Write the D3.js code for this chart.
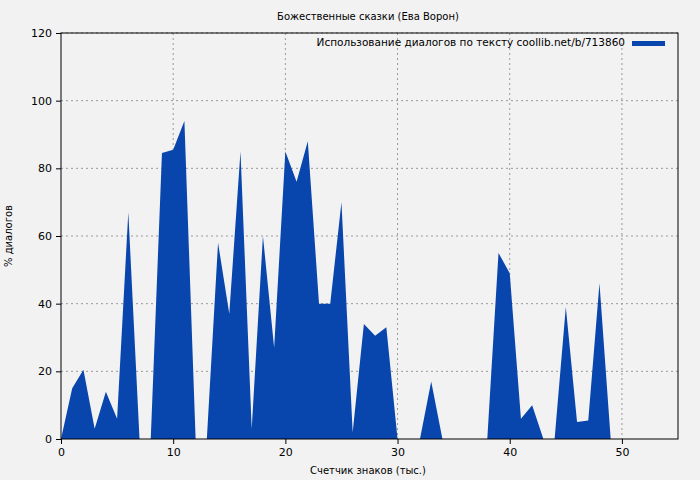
<!DOCTYPE html>
<html><head><meta charset="utf-8">
<script src="https://d3js.org/d3.v7.min.js"></script>
<style>body{margin:0;background:#f2f2f2}text{font-family:"DejaVu Sans",sans-serif}</style>
</head><body><svg width="700" height="480"></svg>
<script>
var thousands = [0,1,2,3,4,5,6,7,8,9,10,11,12,13,14,15,16,17,18,19,20,21,22,23,24,25,26,27,28,29,30,31,32,33,34,35,36,37,38,39,40,41,42,43,44,45,46,47,48,49];
var dialogPct = [0,15,20.5,3,14,6,67,0,0,84.5,85.5,94,0,0,58,37,85,3,60,27,85,76,88,40,40,70,2,34,30.5,33,0,0,0,17,0,0,0,0,0,55,49,6,10,0,0,39,5,5.5,46,0];
var xTicks = [0,10,20,30,40,50];
var yTicks = [0,20,40,60,80,100,120];

var svg = d3.select("svg");
svg.append("rect").attr("width",700).attr("height",480).attr("fill","#f2f2f2");
var mLeft = 61, mRight = 678, mTop = 33, mBottom = 439;
var x = d3.scaleLinear().domain([0,55]).range([mLeft,mRight]);
var y = d3.scaleLinear().domain([0,120]).range([mBottom,mTop]);

// grid
svg.selectAll(".gx").data(xTicks.slice(1)).enter().append("line")
  .attr("x1",d=>x(d)).attr("x2",d=>x(d)).attr("y1",mTop).attr("y2",mBottom)
  .attr("stroke","#999").attr("stroke-dasharray","2,3");
svg.selectAll(".gy").data(yTicks.slice(1)).enter().append("line")
  .attr("x1",mLeft).attr("x2",mRight).attr("y1",d=>y(d)).attr("y2",d=>y(d))
  .attr("stroke","#999").attr("stroke-dasharray","2,3");

var pts = thousands.map((t,i)=>[t,dialogPct[i]]);
svg.append("path").datum(pts)
  .attr("d", d3.area().x(d=>x(d[0])).y0(y(0)).y1(d=>y(d[1])))
  .attr("fill","#0845ad");

svg.append("rect").attr("x",mLeft).attr("y",mTop).attr("width",mRight-mLeft).attr("height",mBottom-mTop)
  .attr("fill","none").attr("stroke","#000");

var ax = svg.append("g").attr("transform","translate(0,"+mBottom+")")
  .call(d3.axisBottom(x).tickValues(xTicks).tickSize(5).tickPadding(4));
var ay = svg.append("g").attr("transform","translate("+mLeft+",0)")
  .call(d3.axisLeft(y).tickValues(yTicks).tickSize(5).tickPadding(4));
[ax,ay].forEach(a=>{a.select(".domain").remove();a.selectAll("text").attr("font-size",11).attr("fill","#000");});

svg.append("text").attr("x",368).attr("y",20).attr("text-anchor","middle").attr("font-size",10).text("Божественные сказки (Ева Ворон)");
svg.append("text").attr("x",368).attr("y",474).attr("text-anchor","middle").attr("font-size",10).text("Счетчик знаков (тыс.)");
svg.append("text").attr("transform","translate(12,236) rotate(-90)").attr("text-anchor","middle").attr("font-size",10).text("% диалогов");
svg.append("text").attr("x",625).attr("y",46).attr("text-anchor","end").attr("font-size",10.5).text("Использование диалогов по тексту coollib.net/b/713860");
svg.append("rect").attr("x",632).attr("y",41).attr("width",33).attr("height",5).attr("fill","#0845ad");
</script></body></html>
